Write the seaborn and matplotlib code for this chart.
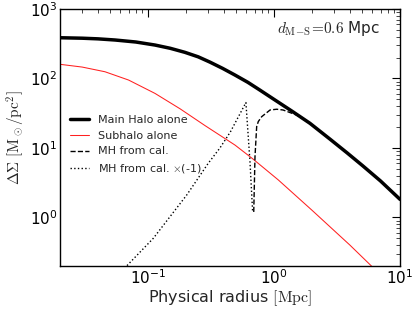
import numpy as np
import pandas as pd
import seaborn as sns
import matplotlib
matplotlib.use("Agg")
import matplotlib.pyplot as plt

# Data
main_r = [0.02, 0.03, 0.04, 0.0547, 0.08, 0.1135, 0.15, 0.196, 0.25, 0.31, 0.39, 0.49,
          0.62, 0.773, 1.0, 1.4, 1.93, 2.78, 3.8, 5.08, 7.0, 10.0]
main_ds = [386, 380, 372, 358, 335, 303, 272, 238, 205, 172, 140, 112,
           88, 68, 50, 33.5, 22.6, 13.4, 8.5, 5.5, 3.35, 1.82]

sub_r = [0.02, 0.03, 0.0455, 0.07, 0.1135, 0.18, 0.283, 0.49, 0.676, 1.08, 2.0, 4.0, 6.5]
sub_ds = [160, 146, 125, 95, 61, 36.5, 21.0, 11.0, 7.0, 3.47, 1.27, 0.40, 0.17]

cal_r = [0.69, 0.706, 0.728, 0.75, 0.798, 0.93, 1.05, 1.18, 1.51, 1.93, 2.2]
cal_ds = [1.2, 7.5, 20.3, 24.0, 28.2, 35.2, 36.1, 35.2, 29.8, 22.6, 18.5]

neg_r = [0.062, 0.110, 0.203, 0.30, 0.372, 0.45, 0.598, 0.644, 0.676]
neg_ds = [0.17, 0.50, 2.11, 6.0, 10.0, 17.0, 45.0, 6.4, 1.21]

labels = ["Main Halo alone", "Subhalo alone", "MH from cal.", r"MH from cal. $\times$(-1)"]

sns.set_style("white")
plt.rcParams["font.family"] = ["DejaVu Sans"]
plt.rcParams["mathtext.fontset"] = "cm"
plt.rcParams["xtick.direction"] = "in"
plt.rcParams["ytick.direction"] = "in"
plt.rcParams["xtick.top"] = True
plt.rcParams["ytick.right"] = True

fig = plt.figure(figsize=(4.15, 3.13), dpi=100)
ax = fig.add_axes([0.1446, 0.1502, 0.8193, 0.8210])

sns.lineplot(x=main_r, y=main_ds, ax=ax, color="black", lw=2.5, label=labels[0], sort=False, estimator=None)
sns.lineplot(x=sub_r, y=sub_ds, ax=ax, color="#ff2020", lw=0.75, label=labels[1], sort=False, estimator=None)
sns.lineplot(x=cal_r, y=cal_ds, ax=ax, color="black", lw=1.0, linestyle="--", label=labels[2], sort=False, estimator=None)
sns.lineplot(x=neg_r, y=neg_ds, ax=ax, color="black", lw=1.0, linestyle=":", label=labels[3], sort=False, estimator=None)

ax.set_xscale("log")
ax.set_yscale("log")
ax.set_xlim(0.02, 10)
ax.set_ylim(0.2, 1000)

for s in ax.spines.values():
    s.set_color("black")
    s.set_linewidth(1.0)

ax.tick_params(which="major", length=6, width=0.8, labelsize=11, pad=2, colors="black", top=True, right=True)
ax.tick_params(which="minor", length=3, width=0.6, top=True, right=True)
ax.minorticks_on()

ax.set_xlabel(r"Physical radius $[\mathrm{Mpc}]$", fontsize=11.5, labelpad=1)
ax.set_ylabel(r"$\Delta\Sigma\ [\mathrm{M_\odot/pc^2}]$", fontsize=11, labelpad=1.5)

ax.text(0.94, 0.925, r"$d_{\rm M\!-\!S}\!=\!0.6$ Mpc", transform=ax.transAxes,
        ha="right", va="center", fontsize=11)

ax.legend(loc="center left", bbox_to_anchor=(0.0, 0.47), frameon=False, fontsize=8,
          handlelength=1.7, labelspacing=0.5)

fig.savefig("out.png", dpi=100)
